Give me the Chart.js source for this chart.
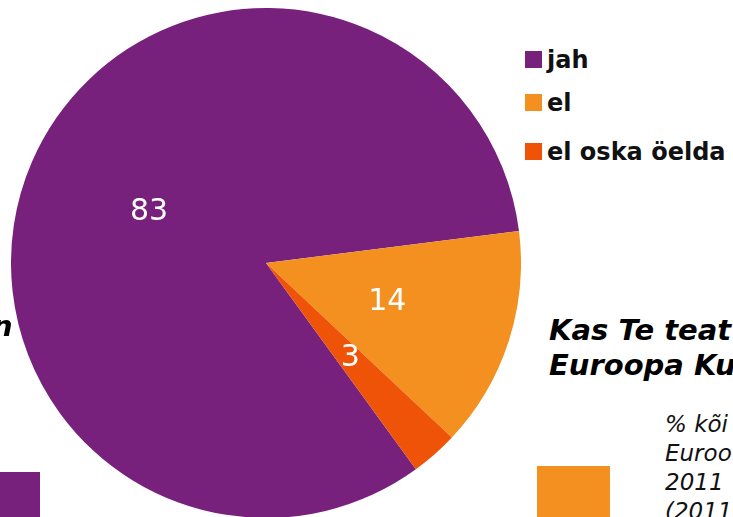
<!DOCTYPE html>
<html>
<head>
<meta charset="utf-8">
<script src="https://cdn.jsdelivr.net/npm/chart.js@4"></script>
<style>
  html, body { margin: 0; padding: 0; }
  body { width: 733px; height: 517px; overflow: hidden; position: relative; background: #fff; font-family: "DejaVu Sans", Verdana, sans-serif; }
  #wrap { position: absolute; left: 11px; top: 8px; width: 510px; height: 510px; }
  .leg { position: absolute; left: 525px; font-weight: bold; font-size: 24px; line-height: 1.164; color: #111; white-space: nowrap; }
  .leg span { display: inline-block; width: 17px; height: 17px; margin-right: 5px; vertical-align: 0; }
  .title { position: absolute; left: 549px; font-weight: bold; font-style: italic; font-size: 29px; line-height: 1.164; color: #000; white-space: nowrap; }
  .note { position: absolute; left: 665px; font-style: italic; font-size: 23px; line-height: 1.164; color: #111; white-space: nowrap; }
  .box { position: absolute; }
</style>
</head>
<body>
<div id="wrap"><canvas id="myChart"></canvas></div>

<div class="leg" id="leg0" style="top:47px"></div>
<div class="leg" id="leg1" style="top:90px"></div>
<div class="leg" id="leg2" style="top:139px"></div>

<div class="title" style="top:314px">Kas Te teat</div>
<div class="title" style="top:349px">Euroopa Ku</div>
<div class="title" style="left:-8px; top:310px">n</div>

<div class="note" style="top:411px">% kõi</div>
<div class="note" style="top:440px">Euroo</div>
<div class="note" style="top:469px">2011</div>
<div class="note" style="top:498px">(2011</div>

<div class="box" style="left:537px; top:466px; width:73px; height:60px; background:#F39020"></div>
<div class="box" style="left:0; top:472px; width:40px; height:50px; background:#77217D"></div>

<script>
const etiquetas = ["jah", "el", "el oska öelda"];
const valores = [83, 14, 3];
const colores = ["#77217D", "#F39020", "#EE5308"];

etiquetas.forEach((e, i) => {
  const d = document.querySelector("#leg" + i);
  d.innerHTML = `<span style="background:${colores[i]}"></span>${e}`;
});

const etiquetasValor = {
  id: "etiquetasValor",
  afterDatasetsDraw(chart) {
    const ctx = chart.ctx;
    ctx.save();
    ctx.fillStyle = "#fff";
    ctx.font = "30px 'DejaVu Sans', sans-serif";
    ctx.textAlign = "center";
    ctx.textBaseline = "middle";
    chart.getDatasetMeta(0).data.forEach((arc, i) => {
      const p = arc.getCenterPoint();
      ctx.fillText(valores[i], p.x, p.y);
    });
    ctx.restore();
  },
};

const myChart = new Chart(document.querySelector("#myChart"), {
  type: "pie",
  data: {
    labels: etiquetas,
    datasets: [
      {
        data: valores,
        backgroundColor: colores,
        borderWidth: 0,
      },
    ],
  },
  options: {
    responsive: true,
    maintainAspectRatio: false,
    animation: false,
    rotation: 144,
    layout: { padding: 0 },
    plugins: {
      legend: { display: false },
      tooltip: { enabled: false },
    },
  },
  plugins: [etiquetasValor],
});
</script>
</body>
</html>
